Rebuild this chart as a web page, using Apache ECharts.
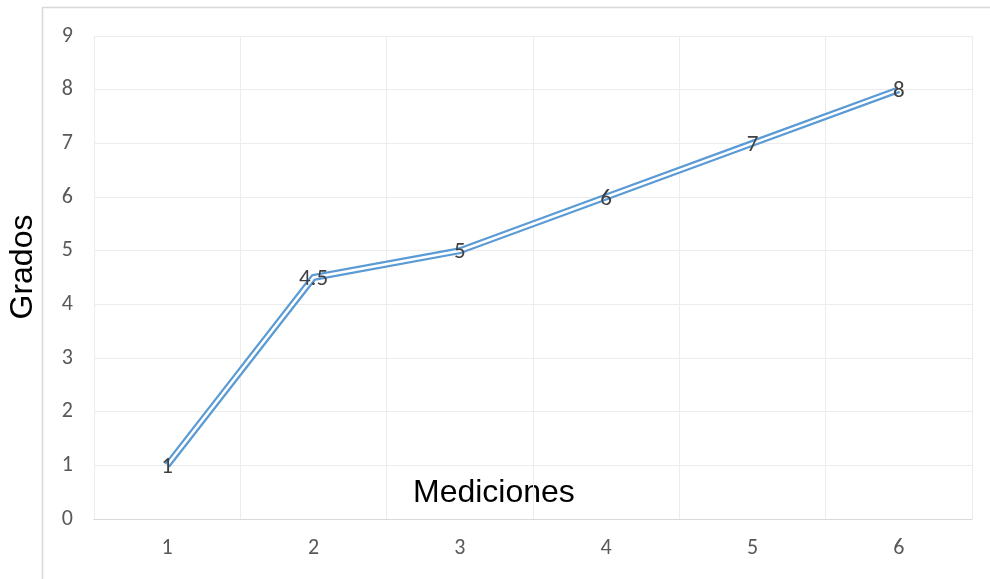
<!DOCTYPE html>
<html>
<head>
<meta charset="utf-8">
<style>
  html, body { margin: 0; padding: 0; background: #ffffff; }
  #chart { width: 990px; height: 579px; }
</style>
<script src="https://cdn.jsdelivr.net/npm/echarts@6/dist/echarts.min.js"></script>
</head>
<body>
<div id="chart"></div>
<script>
// Measurement numbers along the x axis and the degrees read at each one
const mediciones = ['1', '2', '3', '4', '5', '6'];
const grados = [1, 4.5, 5, 6, 7, 8];
const yTicks = [0, 1, 2, 3, 4, 5, 6, 7, 8, 9];

const chart = echarts.init(document.getElementById('chart'), null, { renderer: 'canvas' });

const labelFont = 'Carlito, Calibri, Lato, "Open Sans", sans-serif';
const titleFont = 'Arial, "Liberation Sans", sans-serif';
const lineColor = '#5b9bd5';

chart.setOption({
  animation: false,
  backgroundColor: '#ffffff',
  grid: { left: 94, right: 18, top: 36, bottom: 60, outerBoundsMode: 'none', containLabel: false },
  graphic: [
    {
      type: 'rect',
      shape: { x: 42.5, y: 7.5, width: 1000, height: 700 },
      style: { fill: 'none', stroke: '#d9d9d9', lineWidth: 1.5 },
      silent: true
    },
    {
      type: 'text',
      left: 413, top: 477,
      style: { text: 'Mediciones', font: '32px ' + titleFont, fill: '#000000' }
    },
    {
      type: 'text',
      x: 23, y: 267,
      rotation: Math.PI / 2,
      style: {
        text: 'Grados', font: '32px ' + titleFont, fill: '#000000',
        align: 'center', verticalAlign: 'middle'
      }
    }
  ],
  xAxis: {
    type: 'category',
    data: mediciones,
    boundaryGap: true,
    axisLine: { show: true, lineStyle: { color: '#d9d9d9', width: 1 } },
    axisTick: { show: false },
    axisLabel: { color: '#595959', fontSize: 22, fontFamily: labelFont, margin: 18 },
    splitLine: { show: true, lineStyle: { color: '#ececec', width: 1 } }
  },
  yAxis: {
    type: 'value',
    min: yTicks[0],
    max: yTicks[yTicks.length - 1],
    interval: 1,
    axisLine: { show: false },
    axisTick: { show: false },
    axisLabel: { color: '#595959', fontSize: 22, fontFamily: labelFont, margin: 21 },
    splitLine: { show: true, lineStyle: { color: '#ececec', width: 1 } }
  },
  series: [
    {
      // outer blue stroke of the double line
      type: 'line',
      data: grados,
      symbol: 'none',
      lineStyle: { color: lineColor, width: 7, join: 'miter' },
      z: 2,
      label: { show: false }
    },
    {
      // white core that splits the stroke into two strands
      type: 'line',
      data: grados,
      symbol: 'circle',
      symbolSize: 0.1,
      itemStyle: { color: 'rgba(0,0,0,0)' },
      lineStyle: { color: '#ffffff', width: 2.5, join: 'miter' },
      z: 3,
      label: {
        show: true,
        position: 'inside',
        offset: [0, 2],
        color: '#404040',
        fontSize: 23,
        fontFamily: labelFont
      }
    }
  ]
});
</script>
</body>
</html>
